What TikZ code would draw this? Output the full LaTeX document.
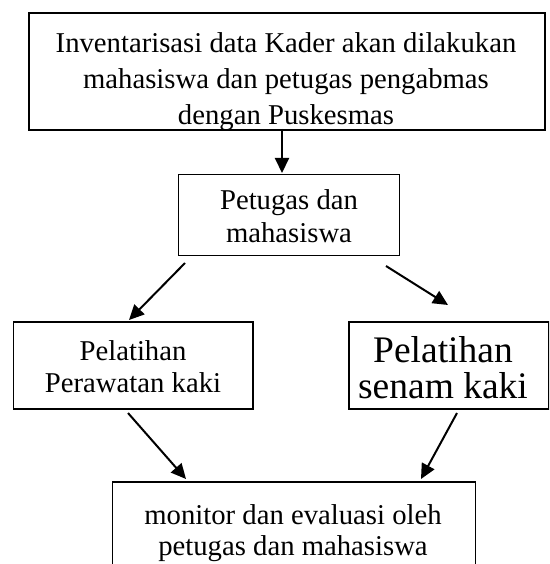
\documentclass[tikz,border=0pt]{standalone}
\usepackage{fontspec}
\setmainfont{Liberation Serif}
\usetikzlibrary{arrows.meta}
\begin{document}
\begin{tikzpicture}[x=1pt,y=-1pt,
  box/.style={draw=black,line width=1.5pt,inner sep=0pt,anchor=north west},
  txt/.style={anchor=base,inner sep=0pt,font=\fontsize{28.7pt}{32pt}\selectfont},
  bigtxt/.style={anchor=base,inner sep=0pt,font=\fontsize{37.5pt}{37pt}\selectfont},
  arr/.style={line width=2pt,-{Triangle[length=15pt,width=14pt]}}]
\useasboundingbox (0,0) rectangle (549,564);
\clip (0,0) rectangle (549,564);
\fill[white] (0,0) rectangle (549,564);
% top box with clipped text
\begin{scope}
\clip (27.7,12) rectangle (544,128.5);
\node[txt] (t1) at (286,53) {Inventarisasi data Kader akan dilakukan};
\node[txt] (t2) at (286,89) {mahasiswa dan petugas pengabmas};
\node[txt] (t3) at (286,125) {dengan Puskesmas};
\end{scope}
\node[box,line width=2pt,minimum width=516.3pt,minimum height=117pt] (top) at (27.7,12) {};
% middle box
\node[box,line width=1.3pt,minimum width=221pt,minimum height=81pt] (mid) at (178,174) {};
\node[txt] (m1) at (289,209) {Petugas dan};
\node[txt] (m2) at (289,242) {mahasiswa};
% left box
\node[box,minimum width=239.3pt,minimum height=87pt] (left) at (12.7,321) {};
\node[txt] (l1) at (133,360) {Pelatihan};
\node[txt] (l2) at (133,392) {Perawatan kaki};
% right box
\node[box,minimum width=200pt,minimum height=87pt] (right) at (348,321) {};
\node[bigtxt] (r1) at (443,362) {Pelatihan};
\node[bigtxt] (r2) at (443,398) {senam kaki};
% bottom box
\node[box,minimum width=363pt,minimum height=120pt] (bot) at (111.7,481) {};
\node[txt] (b1) at (293,524) {monitor dan evaluasi oleh};
\node[txt] (b2) at (293,555) {petugas dan mahasiswa};
% arrows
\coordinate (a1s) at (282,129);
\coordinate (a1e) at (282,173);
\coordinate (a2s) at (185,263);
\coordinate (a2e) at (129,320);
\coordinate (a3s) at (386,266);
\coordinate (a3e) at (448,305);
\coordinate (a4s) at (128,413);
\coordinate (a4e) at (186,479);
\coordinate (a5s) at (457,413);
\coordinate (a5e) at (421,479);
\draw[arr] (a1s) -- (a1e);
\draw[arr] (a2s) -- (a2e);
\draw[arr] (a3s) -- (a3e);
\draw[arr] (a4s) -- (a4e);
\draw[arr] (a5s) -- (a5e);
\end{tikzpicture}
\end{document}
